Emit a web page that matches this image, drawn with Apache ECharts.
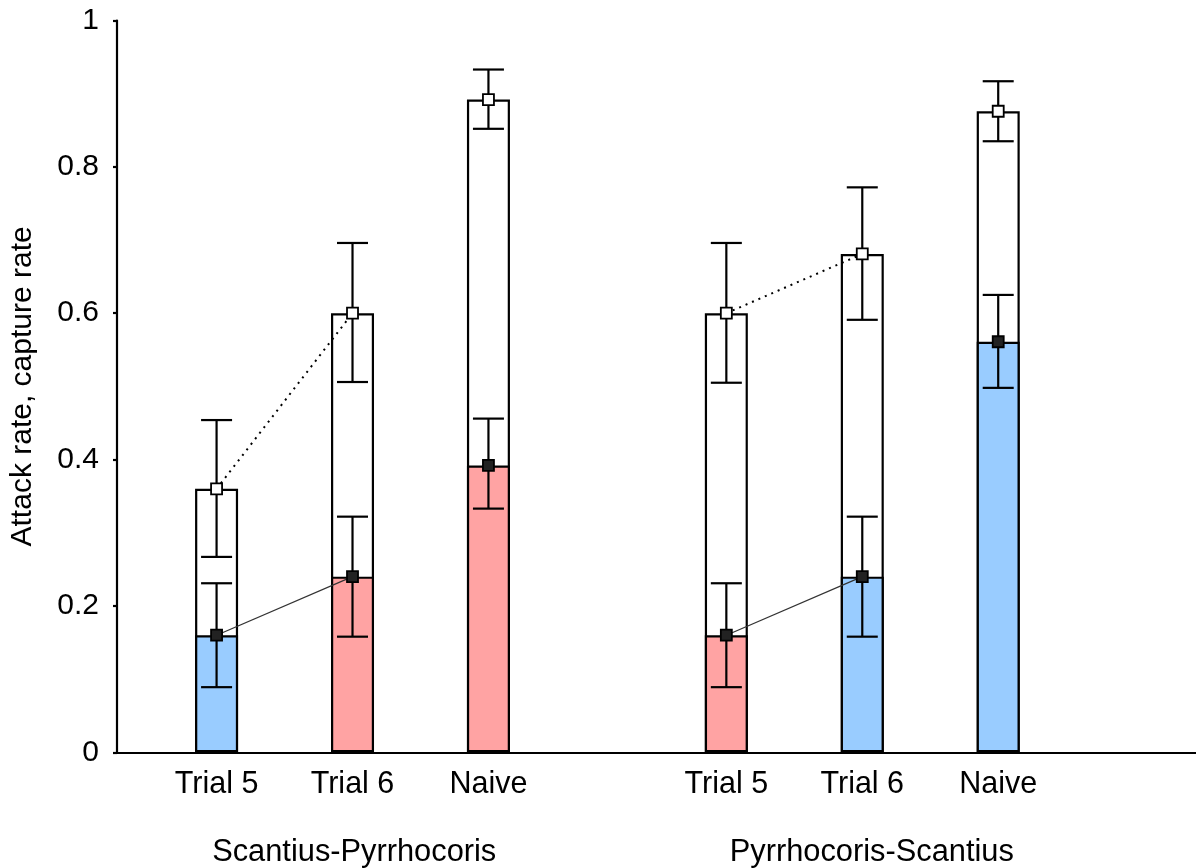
<!DOCTYPE html>
<html>
<head>
<meta charset="utf-8">
<script src="https://cdn.jsdelivr.net/npm/echarts@6/dist/echarts.min.js"></script>
<style>
html,body{margin:0;padding:0;background:#fff;}
#chart{width:1196px;height:868px;}
</style>
</head>
<body>
<div id="chart"></div>
<script>
// ---- data ----
var categories = ['Trial 5', 'Trial 6', 'Naive', 'Trial 5', 'Trial 6', 'Naive'];
var groups = ['Scantius-Pyrrhocoris', 'Pyrrhocoris-Scantius'];
var slot = [3, 7, 11, 18, 22, 26];          // category slot on the x scale
var groupSlot = [7.05, 22.28];
var attackRate = [0.36, 0.60, 0.892, 0.60, 0.681, 0.876];
var attackLow  = [0.267, 0.506, 0.852, 0.505, 0.591, 0.835];
var attackHigh = [0.454, 0.696, 0.933, 0.696, 0.772, 0.917];
var captureRate = [0.16, 0.24, 0.392, 0.16, 0.24, 0.561];
var captureLow  = [0.089, 0.158, 0.333, 0.089, 0.158, 0.498];
var captureHigh = [0.231, 0.322, 0.456, 0.231, 0.322, 0.625];
var captureColor = ['blue', 'red', 'red', 'red', 'blue', 'blue'];
var yTicks = [0, 0.2, 0.4, 0.6, 0.8, 1];

// ---- styles ----
var COLORS = { blue: '#99CCFF', red: '#FFA3A3' };
var FONT = 'Liberation Sans, Arial, sans-serif';

var chart = echarts.init(document.getElementById('chart'));

function errData(lo, hi) {
  return slot.map(function (s, i) { return [s, lo[i], hi[i]]; });
}
function errRender(params, api) {
  var x = api.value(0);
  var p1 = api.coord([x, api.value(1)]);
  var p2 = api.coord([x, api.value(2)]);
  var hw = 15.5;
  var st = { stroke: '#000', lineWidth: 2.2 };
  return {
    type: 'group',
    children: [
      { type: 'line', shape: { x1: p1[0], y1: p1[1], x2: p2[0], y2: p2[1] }, style: st },
      { type: 'line', shape: { x1: p1[0] - hw, y1: p1[1], x2: p1[0] + hw, y2: p1[1] }, style: st },
      { type: 'line', shape: { x1: p2[0] - hw, y1: p2[1], x2: p2[0] + hw, y2: p2[1] }, style: st }
    ]
  };
}
function pairLine(vals, g) {
  var a = g * 3, b = g * 3 + 1;
  return [[slot[a], vals[a]], [slot[b], vals[b]]];
}

var series = [
  {
    type: 'bar', name: 'attack', barWidth: 43, barGap: '-100%', z: 2,
    data: slot.map(function (s, i) { return [s, attackRate[i]]; }),
    itemStyle: { color: '#fff', borderColor: '#000', borderWidth: 2.2 },
    silent: true
  },
  {
    type: 'bar', name: 'capture', barWidth: 43, barGap: '-100%', z: 3,
    data: slot.map(function (s, i) {
      return { value: [s, captureRate[i]], itemStyle: { color: COLORS[captureColor[i]] } };
    }),
    itemStyle: { borderColor: '#000', borderWidth: 2.2 },
    silent: true
  },
  { type: 'custom', z: 4, renderItem: errRender, data: errData(attackLow, attackHigh), silent: true },
  { type: 'custom', z: 4, renderItem: errRender, data: errData(captureLow, captureHigh), silent: true }
];
[0, 1].forEach(function (g) {
  series.push({
    type: 'line', z: 5, symbol: 'none', silent: true, data: pairLine(attackRate, g),
    lineStyle: { color: '#000', width: 2, type: [2, 5] }
  });
  series.push({
    type: 'line', z: 5, symbol: 'none', silent: true, data: pairLine(captureRate, g),
    lineStyle: { color: '#333', width: 1.2 }
  });
});
series.push({
  type: 'scatter', z: 6, symbol: 'rect', symbolSize: 11, silent: true,
  data: slot.map(function (s, i) { return [s, attackRate[i]]; }),
  itemStyle: { color: '#fff', borderColor: '#000', borderWidth: 1.8, opacity: 1 }
});
series.push({
  type: 'scatter', z: 6, symbol: 'rect', symbolSize: 11, silent: true,
  data: slot.map(function (s, i) { return [s, captureRate[i]]; }),
  itemStyle: { color: '#222', borderColor: '#000', borderWidth: 1.8, opacity: 1 }
});

var option = {
  animation: false,
  backgroundColor: '#fff',
  grid: { left: 117, right: 0, top: 20.5, bottom: 115.7, containLabel: false, outerBoundsMode: 'none' },
  xAxis: [
    {
      type: 'value', min: 0.07, max: 31.82,
      axisLine: { show: true, onZero: false, lineStyle: { color: '#000', width: 2.2 } },
      axisTick: { show: false },
      splitLine: { show: false },
      axisLabel: {
        customValues: slot,
        formatter: function (v) { var i = slot.indexOf(v); return i >= 0 ? categories[i] : ''; },
        color: '#000', fontSize: 30.5, fontFamily: FONT, margin: 17
      }
    },
    {
      type: 'value', min: 0.07, max: 31.82, position: 'bottom',
      axisLine: { show: false }, axisTick: { show: false }, splitLine: { show: false },
      axisLabel: {
        customValues: groupSlot,
        formatter: function (v) { var i = groupSlot.indexOf(v); return i >= 0 ? groups[i] : ''; },
        color: '#000', fontSize: 30.8, fontFamily: FONT, margin: 85
      }
    }
  ],
  yAxis: {
    type: 'value', min: 0, max: 1, interval: 0.2,
    name: 'Attack rate, capture rate', nameLocation: 'middle', nameRotate: 90, nameGap: 79,
    nameTextStyle: { color: '#000', fontSize: 30, fontFamily: FONT },
    axisLine: { show: true, onZero: false, lineStyle: { color: '#000', width: 2.2 } },
    axisTick: { show: true, inside: false, length: 4, lineStyle: { color: '#000', width: 2.2 } },
    splitLine: { show: false },
    axisLabel: {
      customValues: yTicks,
      formatter: function (v) { return (v === 0 || v === 1) ? String(v) : v.toFixed(1); },
      color: '#000', fontSize: 30, fontFamily: FONT, margin: 18
    }
  },
  series: series
};
chart.setOption(option);
</script>
</body>
</html>
